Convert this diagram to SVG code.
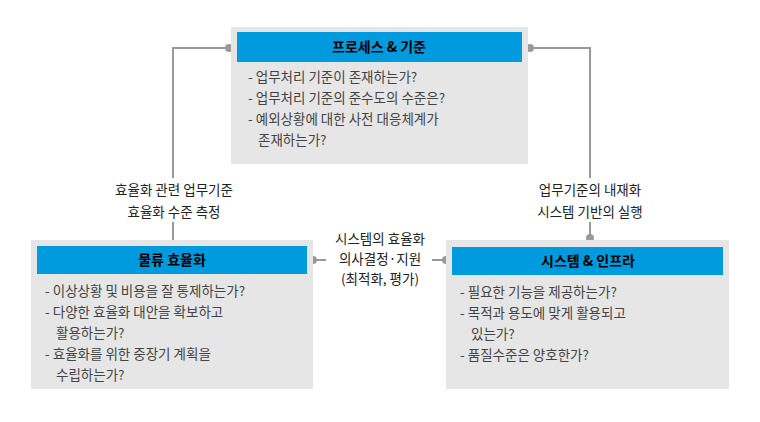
<svg xmlns="http://www.w3.org/2000/svg" width="760" height="422" viewBox="0 0 760 422">
<style>
.box{fill:#e6e6e6}
.bar{fill:#009ade}
.t{font-family:"Noto Sans CJK KR","Noto Sans",sans-serif;font-size:14px;font-weight:bold;fill:#000;text-anchor:middle}
.b{font-family:"Noto Sans CJK KR","Noto Sans",sans-serif;font-size:13.5px;fill:#444}
.l{font-family:"Noto Sans CJK KR","Noto Sans",sans-serif;font-size:13.5px;fill:#222;text-anchor:middle}
.c{stroke:#999;stroke-width:2;fill:none}
.d{fill:#999}
</style>
<g id="connectors">
<path class="c" d="M229 48H173V178M173 222V240"/>
<path class="c" d="M530 48H590V178M590 222V238"/>
<path class="c" d="M313 260H326M432 260H446"/>
<circle class="d" cx="229" cy="48" r="4"/><circle class="d" cx="530" cy="48" r="4"/>
<circle class="d" cx="590" cy="238" r="4"/>
<circle class="d" cx="313" cy="260" r="4"/><circle class="d" cx="446" cy="260" r="4"/>
<text class="l" x="174" y="195">효율화 관련 업무기준</text>
<text class="l" x="174" y="217">효율화 수준 측정</text>
<text class="l" x="590" y="195">업무기준의 내재화</text>
<text class="l" x="590" y="217">시스템 기반의 실행</text>
<text class="l" x="380" y="244">시스템의 효율화</text>
<text class="l" x="380" y="264">의사결정·지원</text>
<text class="l" x="380" y="284">(최적화, 평가)</text>
</g>
<g id="process">
<rect class="box" x="231" y="27" width="297" height="137"/>
<rect class="bar" x="237" y="32" width="285" height="30"/>
<text class="t" x="379" y="52">프로세스 &amp; 기준</text>
<text class="b" x="248" y="82">- 업무처리 기준이 존재하는가?</text>
<text class="b" x="248" y="103">- 업무처리 기준의 준수도의 수준은?</text>
<text class="b" x="248" y="124">- 예외상황에 대한 사전 대응체계가</text>
<text class="b" x="258" y="145">존재하는가?</text>
</g>
<g id="logistics">
<rect class="box" x="31" y="240" width="282" height="149"/>
<rect class="bar" x="37" y="246" width="270" height="28"/>
<text class="t" x="172" y="265">물류 효율화</text>
<text class="b" x="45" y="296">- 이상상황 및 비용을 잘 통제하는가?</text>
<text class="b" x="45" y="317">- 다양한 효율화 대안을 확보하고</text>
<text class="b" x="56" y="338">활용하는가?</text>
<text class="b" x="45" y="359">- 효율화를 위한 중장기 계획을</text>
<text class="b" x="56" y="380">수립하는가?</text>
</g>
<g id="system">
<rect class="box" x="446" y="240" width="283" height="149"/>
<rect class="bar" x="452" y="247" width="271" height="28"/>
<text class="t" x="588" y="266">시스템 &amp; 인프라</text>
<text class="b" x="460" y="297">- 필요한 기능을 제공하는가?</text>
<text class="b" x="460" y="318">- 목적과 용도에 맞게 활용되고</text>
<text class="b" x="471" y="339">있는가?</text>
<text class="b" x="460" y="360">- 품질수준은 양호한가?</text>
</g>
</svg>
